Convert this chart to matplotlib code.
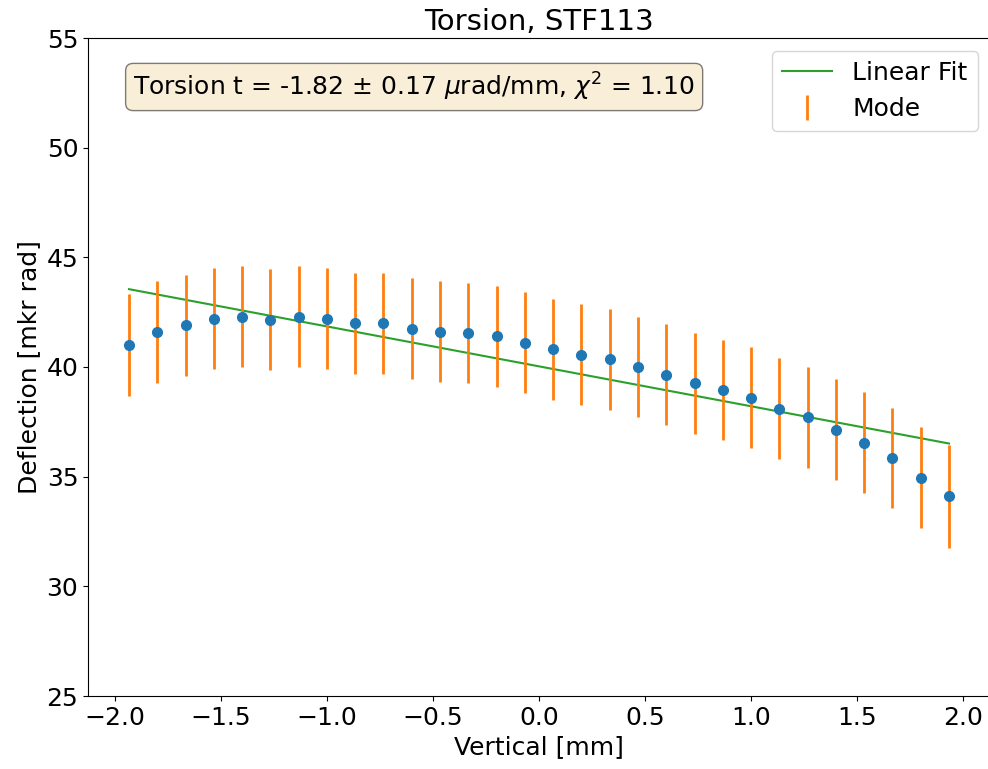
import numpy as np
import matplotlib.pyplot as plt

# Positions along the vertical axis [mm]
vertical = np.linspace(-1.9333, 1.9333, 30)

# Mode of deflection [mkr rad] and its uncertainty
deflection = [41.0, 41.6, 41.9, 42.2, 42.3, 42.15, 42.3, 42.2, 42.0, 42.0,
              41.75, 41.6, 41.55, 41.4, 41.1, 40.8, 40.55, 40.35, 40.0, 39.65,
              39.25, 38.95, 38.6, 38.1, 37.7, 37.15, 36.55, 35.85, 34.95, 34.1]
errors = [2.33, 2.33, 2.3, 2.3, 2.3, 2.3, 2.3, 2.3, 2.3, 2.3,
          2.3, 2.3, 2.3, 2.3, 2.3, 2.3, 2.3, 2.3, 2.3, 2.3,
          2.3, 2.3, 2.3, 2.3, 2.3, 2.3, 2.3, 2.3, 2.3, 2.35]

# Linear fit parameters
slope = -1.82
intercept = 40.03

plt.rcParams['font.size'] = 18

fig = plt.figure(figsize=(9.88, 7.69), dpi=100)
ax = fig.add_axes([88/988, 73/769, 902/988, 658/769])

ax.plot(vertical, slope*vertical + intercept, color='C2', label='Linear Fit')
ax.errorbar(vertical, deflection, yerr=errors, fmt='none', ecolor='C1',
            elinewidth=2, label='Mode')
ax.plot(vertical, deflection, 'o', color='C0', markersize=7)

ax.set_ylim(25, 55)
ax.set_title('Torsion, STF113', fontsize=21)
ax.set_xlabel('Vertical [mm]')
ax.set_ylabel('Deflection [mkr rad]')
ax.spines['right'].set_visible(False)

ax.text(0.05, 0.95, r'Torsion t = -1.82 $\pm$ 0.17 $\mu$rad/mm, $\chi^2$ = 1.10',
        transform=ax.transAxes, va='top',
        bbox=dict(boxstyle='round', facecolor='wheat', alpha=0.5))
ax.legend(loc='upper right')

fig.savefig('out.png', dpi=100)
